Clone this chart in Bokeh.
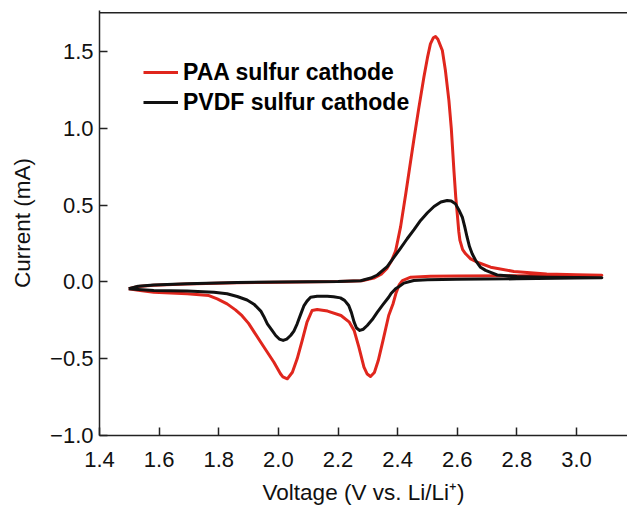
from bokeh.plotting import figure
from bokeh.models import FixedTicker, Span, Legend, LegendItem
from bokeh.embed import file_html
from bokeh.resources import INLINE

# ---- data ----
paa_v = [1.498, 1.53, 1.58, 1.69, 1.86, 2.00, 2.20, 2.28, 2.32, 2.345, 2.365, 2.38, 2.393, 2.41,
         2.427, 2.44, 2.454, 2.47, 2.488, 2.50, 2.51, 2.52, 2.527, 2.535, 2.55, 2.56, 2.572, 2.58,
         2.589, 2.595, 2.60, 2.605, 2.609, 2.618, 2.628, 2.645, 2.667, 2.712, 2.79, 2.90, 3.00, 3.085,
         3.00, 2.80, 2.60, 2.51, 2.444, 2.416, 2.405, 2.395, 2.385, 2.37, 2.351, 2.335, 2.322, 2.309,
         2.298, 2.287, 2.27, 2.254, 2.238, 2.21, 2.165, 2.13, 2.113, 2.096, 2.08, 2.063, 2.047, 2.03,
         2.015, 2.007, 1.985, 1.963, 1.941, 1.92, 1.90, 1.878, 1.856, 1.828, 1.795, 1.767, 1.694,
         1.582, 1.53, 1.498]
paa_i = [-0.045, -0.03, -0.022, -0.013, -0.005, -0.002, 0.002, 0.008, 0.025, 0.05, 0.09, 0.14, 0.20,
         0.36, 0.57, 0.74, 0.92, 1.12, 1.333, 1.46, 1.55, 1.59, 1.598, 1.58, 1.507, 1.38, 1.18, 1.0,
         0.72, 0.55, 0.443, 0.33, 0.27, 0.21, 0.183, 0.15, 0.128, 0.096, 0.068, 0.052, 0.046, 0.044,
         0.042, 0.040, 0.038, 0.037, 0.031, 0.009, -0.02, -0.07, -0.14, -0.219, -0.381, -0.512, -0.59,
         -0.616, -0.60, -0.555, -0.425, -0.316, -0.262, -0.219, -0.19, -0.18, -0.186, -0.262, -0.381,
         -0.501, -0.588, -0.631, -0.618, -0.598, -0.523, -0.458, -0.393, -0.33, -0.27, -0.22, -0.182,
         -0.143, -0.11, -0.089, -0.077, -0.067, -0.055, -0.045]

pvdf_v = [1.498, 1.53, 1.582, 1.694, 1.862, 2.00, 2.20, 2.276, 2.31, 2.332, 2.343, 2.365, 2.388, 2.41,
          2.432, 2.455, 2.477, 2.50, 2.522, 2.545, 2.566, 2.58, 2.594, 2.605, 2.617, 2.625, 2.633,
          2.641, 2.65, 2.663, 2.678, 2.695, 2.712, 2.734, 2.80, 2.90, 3.00, 3.085,
          3.00, 2.80, 2.60, 2.50, 2.454, 2.421, 2.405, 2.393, 2.378, 2.37, 2.35, 2.332, 2.315, 2.298,
          2.285, 2.273, 2.262, 2.254, 2.245, 2.236, 2.222, 2.208, 2.185, 2.164, 2.13, 2.108, 2.096,
          2.086, 2.075, 2.063, 2.052, 2.041, 2.028, 2.016, 2.003, 1.991, 1.977, 1.963, 1.951, 1.941,
          1.918, 1.895, 1.862, 1.828, 1.784, 1.694, 1.582, 1.53, 1.498]
pvdf_i = [-0.045, -0.028, -0.02, -0.012, -0.004, -0.001, 0.003, 0.008, 0.025, 0.045, 0.063, 0.10,
          0.161, 0.22, 0.281, 0.34, 0.40, 0.45, 0.491, 0.52, 0.53, 0.527, 0.508, 0.47, 0.421, 0.36,
          0.291, 0.23, 0.183, 0.135, 0.095, 0.075, 0.062, 0.045, 0.035, 0.030, 0.028, 0.027,
          0.025, 0.020, 0.018, 0.014, 0.009, -0.008, -0.03, -0.045, -0.075, -0.10, -0.15, -0.197,
          -0.245, -0.284, -0.308, -0.316, -0.30, -0.262, -0.20, -0.154, -0.12, -0.104, -0.096, -0.093,
          -0.094, -0.10, -0.125, -0.154, -0.21, -0.273, -0.32, -0.349, -0.372, -0.381, -0.372, -0.349,
          -0.31, -0.273, -0.225, -0.19, -0.145, -0.118, -0.095, -0.077, -0.067, -0.06, -0.056, -0.05,
          -0.045]

series_names = ["PAA sulfur cathode", "PVDF sulfur cathode"]
x_ticks = [1.4, 1.6, 1.8, 2.0, 2.2, 2.4, 2.6, 2.8, 3.0]
x_tick_labels = ["1.4", "1.6", "1.8", "2.0", "2.2", "2.4", "2.6", "2.8", "3.0"]
y_ticks = [-1.0, -0.5, 0.0, 0.5, 1.0, 1.5]
y_tick_labels = ["\u22121.0", "\u22120.5", "0.0", "0.5", "1.0", "1.5"]
x_title = "Voltage (V vs. Li/Li\u207a)"
y_title = "Current (mA)"

FONT = "Liberation Sans"
RED = "#e0261d"
BLACK = "#111111"

p = figure(width=627, height=511, output_backend="svg", toolbar_location=None,
           x_range=(1.4, 3.171), y_range=(-1.0, 1.767),
           min_border_left=99, min_border_right=0, min_border_top=10, min_border_bottom=76)
p.outline_line_color = None
p.xgrid.visible = False
p.ygrid.visible = False
p.background_fill_color = "white"

r1 = p.line(paa_v, paa_i, line_color=RED, line_width=3, line_join="round")
r2 = p.line(pvdf_v, pvdf_i, line_color=BLACK, line_width=3, line_join="round")

top = Span(location=1.752, dimension="width", line_color="#222222", line_width=1.5)
p.add_layout(top)

for ax in (p.xaxis[0], p.yaxis[0]):
    ax.axis_line_color = "#222222"
    ax.axis_line_width = 1.5
    ax.major_tick_line_color = "#222222"
    ax.major_tick_line_width = 1.5
    ax.major_tick_in = 8
    ax.major_tick_out = 0
    ax.minor_tick_line_color = None
    ax.major_label_text_font = FONT
    ax.major_label_text_font_size = "22px"
    ax.major_label_text_color = "#111111"
    ax.axis_label_text_font = FONT
    ax.axis_label_text_font_size = "22.5px"
    ax.axis_label_text_font_style = "normal"
    ax.axis_label_text_color = "#111111"

p.xaxis.ticker = FixedTicker(ticks=x_ticks)
p.yaxis.ticker = FixedTicker(ticks=y_ticks)
p.xaxis.major_label_overrides = dict(zip(x_ticks, x_tick_labels))
p.yaxis.major_label_overrides = dict(zip(y_ticks, y_tick_labels))
p.xaxis.axis_label = x_title
p.yaxis.axis_label = y_title
p.xaxis.major_label_standoff = 16
p.yaxis.major_label_standoff = 6
p.xaxis.axis_label_standoff = 10
p.yaxis.axis_label_standoff = 12

legend = Legend(items=[LegendItem(label=series_names[0], renderers=[r1]),
                       LegendItem(label=series_names[1], renderers=[r2])],
                location=(44, 318), orientation="vertical")
legend.padding = 0
legend.margin = 0
legend.spacing = 0
legend.border_line_color = None
legend.background_fill_alpha = 0
legend.glyph_width = 35
legend.glyph_height = 30
legend.label_height = 30
legend.label_standoff = 5
legend.label_text_font = FONT
legend.label_text_font_size = "23px"
legend.label_text_font_style = "bold"
legend.label_text_color = "#000000"
p.add_layout(legend)

open("out.html", "w").write(file_html(p, INLINE))
